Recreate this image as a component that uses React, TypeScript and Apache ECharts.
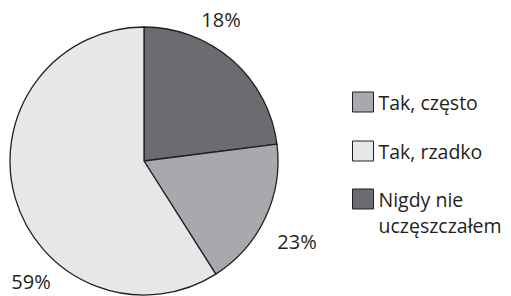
import React, { useEffect, useRef } from "react";
import * as echarts from "echarts";

const categories = ["Nigdy nie uczęszczałem", "Tak, często", "Tak, rzadko"];
const values = [23, 18, 59];
const sliceLabels = ["18%", "23%", "59%"];
const legendOrder = ["Tak, często", "Tak, rzadko", "Nigdy nie uczęszczałem"];

const colors = ["#6b6c70", "#a7a9ac", "#e6e7e8"];
const labelPos: [number, number][] = [
  [221, 19],
  [297, 241],
  [31, 281],
];
const legendTops = [84, 133, 155];

export default function App() {
  const ref = useRef<HTMLDivElement>(null);
  useEffect(() => {
    if (!ref.current) return;
    const chart = echarts.init(ref.current, null, { renderer: "svg" });
    const font = "'Open Sans', 'DejaVu Sans', sans-serif";
    chart.setOption({
      animation: false,
      backgroundColor: "#ffffff",
      legend: legendOrder.map((n, i) => ({
        orient: "vertical",
        left: 347,
        top: legendTops[i],
        itemWidth: 21,
        itemHeight: 20,
        itemGap: 0,
        icon: "rect",
        selectedMode: false,
        itemStyle: { borderColor: "#231f20", borderWidth: 1 },
        textStyle: {
          fontFamily: font,
          fontSize: 19.5,
          color: "#231f20",
          lineHeight: 26,
        },
        formatter: (name: string) =>
          name.includes("nie ") ? "\n" + name.replace("nie ", "nie\n") : name,
        data: [n],
      })),
      series: [
        {
          type: "pie",
          center: [144, 161],
          radius: 134,
          startAngle: 90,
          clockwise: true,
          avoidLabelOverlap: false,
          itemStyle: { borderColor: "#231f20", borderWidth: 1.3 },
          emphasis: { disabled: true },
          label: {
            show: true,
            position: "outside",
            fontFamily: font,
            fontSize: 20,
            color: "#231f20",
            formatter: (p: any) => sliceLabels[p.dataIndex],
          },
          labelLine: { show: false },
          labelLayout: (p: any) => ({
            x: labelPos[p.dataIndex][0],
            y: labelPos[p.dataIndex][1],
            align: "center",
            verticalAlign: "middle",
          }),
          data: categories.map((c, i) => ({
            name: c,
            value: values[i],
            itemStyle: { color: colors[i] },
          })),
        },
      ],
    });
    return () => chart.dispose();
  }, []);
  return <div ref={ref} style={{ width: 511, height: 296, position: "absolute", left: 0, top: 0 }} />;
}
